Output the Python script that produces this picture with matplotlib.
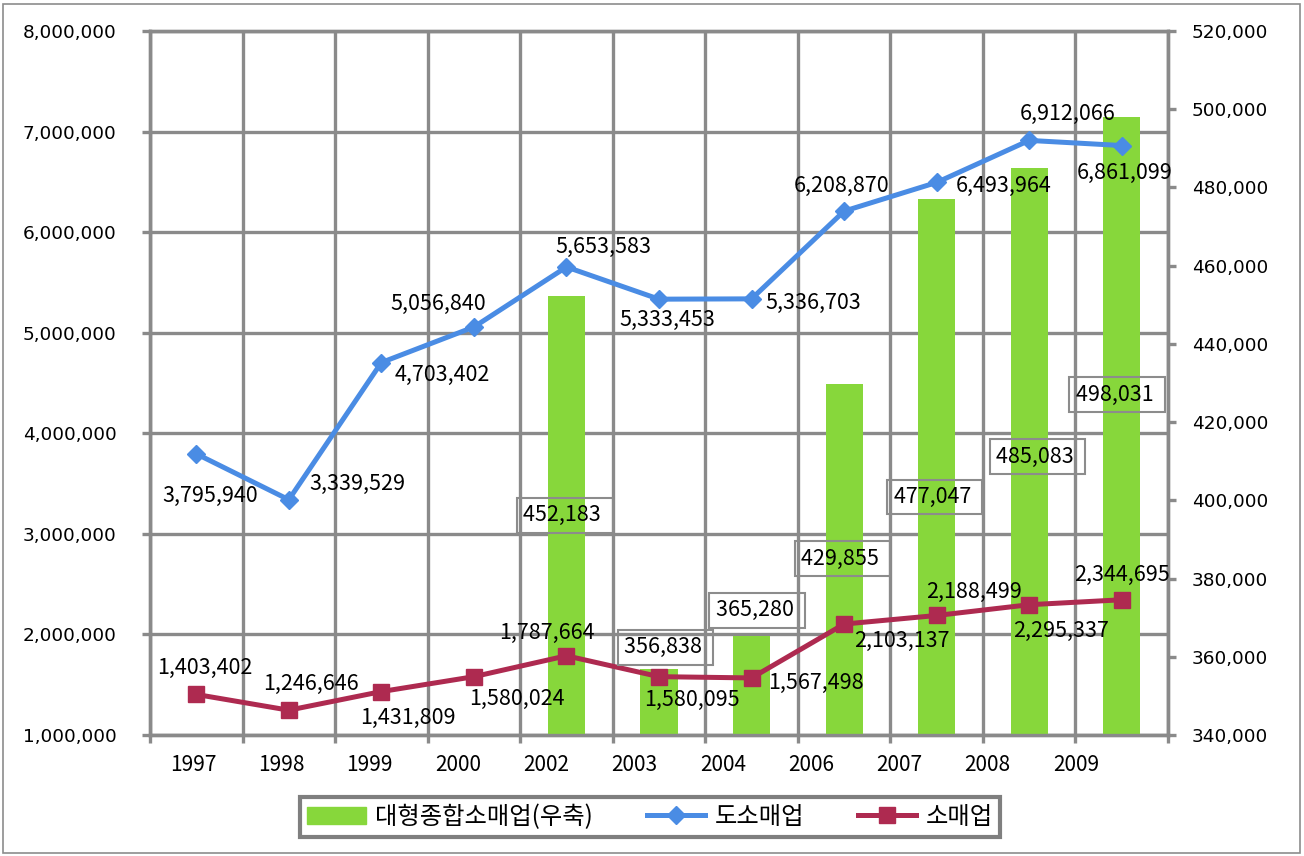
import numpy as np
import matplotlib
matplotlib.use('Agg')
import matplotlib.pyplot as plt
from matplotlib.lines import Line2D
from matplotlib.patches import Patch, Rectangle
from matplotlib.ticker import FuncFormatter

plt.rcParams['font.family'] = ['Noto Sans CJK KR', 'DejaVu Sans']

years = ['1997', '1998', '1999', '2000', '2002', '2003', '2004', '2006', '2007', '2008', '2009']
large_retail = [np.nan, np.nan, np.nan, np.nan, 452183, 356838, 365280, 429855, 477047, 485083, 498031]
wholesale_retail = [3795940, 3339529, 4703402, 5056840, 5653583, 5333453, 5336703, 6208870, 6493964, 6912066, 6861099]
retail = [1403402, 1246646, 1431809, 1580024, 1787664, 1580095, 1567498, 2103137, 2188499, 2295337, 2344695]

series_names = ['대형종합소매업(우축)', '도소매업', '소매업']

# label offsets (pixels, y up)
blue_off = [(14, -42), (69, 16), (61, -12), (-36, 23), (37, 20), (8, -21), (62, -4), (-3, 25), (67, -3), (38, 26), (3, -27)]
red_off = [(9, 26), (22, 26), (27, -26), (43, -22), (-20, 23), (33, -23), (64, -5), (58, -17), (37, 24), (32, -26), (0, 25)]
bar_off = [None, None, None, None, (-43, -219), (-35, 22), (-36, 26), (-43, -175), (-43, -298), (-33, -289), (-46, -278)]

GREEN = '#87D73B'
BLUE = '#4A8CE4'
RED = '#AE2A50'
GRID = '#8A8A8A'

W, H = 1304, 856
fig = plt.figure(figsize=(W / 100, H / 100), dpi=100)
ax = fig.add_axes([150 / W, (H - 735) / H, 1018 / W, 704 / H])
ax2 = ax.twinx()
ax3 = ax.twinx()

x = np.arange(len(years))
ax.set_xlim(-0.5, len(years) - 0.5)
ax.set_ylim(1000000, 8000000)
ax.set_yticks(np.arange(1000000, 8000001, 1000000))
ax2.set_ylim(340000, 520000)
ax2.set_yticks(np.arange(340000, 520001, 20000))
ax3.set_ylim(ax.get_ylim())

fmt = FuncFormatter(lambda v, p: f'{int(v):,}')
ax.yaxis.set_major_formatter(fmt)
ax2.yaxis.set_major_formatter(fmt)

# grid
ax.grid(axis='y', color=GRID, lw=2.4)
ax.set_xticks(np.arange(len(years) + 1) - 0.5, minor=True)
ax.grid(axis='x', which='minor', color=GRID, lw=2.4)
ax.set_xticks(np.arange(len(years)) * 0.954 - 0.035)
ax.set_xticklabels(years, fontsize=15)
ax.tick_params(axis='x', which='major', length=0, pad=14)
ax.tick_params(axis='x', which='minor', length=6, width=2.4, color=GRID, direction='out')
ax.tick_params(axis='y', length=6, width=2.4, color=GRID, pad=18)
ax2.tick_params(axis='y', length=6, width=2.4, color=GRID, pad=11)
for lab in ax.get_yticklabels() + ax2.get_yticklabels():
    lab.set_fontfamily('DejaVu Sans')
    lab.set_fontsize(13.3)
for a in (ax, ax2):
    for s in a.spines.values():
        s.set_color(GRID)
        s.set_linewidth(2.4)
for s in ax3.spines.values():
    s.set_visible(False)
ax3.set_yticks([])

# bars on right axis
ax2.bar(x, np.nan_to_num(large_retail, nan=0), width=0.4, color=GREEN, zorder=2)

# lines
ax3.plot(x, wholesale_retail, color=BLUE, lw=3.6, marker='D', markersize=9.5, zorder=3)
ax3.plot(x, retail, color=RED, lw=3.6, marker='s', markersize=12, zorder=3)

lab_kw = dict(textcoords='offset pixels', fontsize=15.5, ha='center', va='center', annotation_clip=False)
for i in range(len(years)):
    ax3.annotate(f'{wholesale_retail[i]:,}', (x[i], wholesale_retail[i]), xytext=blue_off[i], **lab_kw)
    ax3.annotate(f'{retail[i]:,}', (x[i], retail[i]), xytext=red_off[i], **lab_kw)
    if bar_off[i] is not None:
        ax3.annotate(f'{int(large_retail[i]):,} ', (x[i], large_retail[i]), xycoords=ax2.transData,
                     xytext=bar_off[i], textcoords='offset pixels', fontsize=15.5, ha='left', va='center',
                     annotation_clip=False,
                     bbox=dict(boxstyle='square,pad=0.3', fc='none', ec='#8C8C8C', lw=1.5))

handles = [Patch(color=GREEN),
           Line2D([], [], color=BLUE, lw=3.6, marker='D', markersize=9.5),
           Line2D([], [], color=RED, lw=3.6, marker='s', markersize=12)]
leg = fig.legend(handles, series_names, loc='center', bbox_to_anchor=(650 / W, 1 - 817 / H), ncol=3,
                 frameon=True, fancybox=False, edgecolor='#7F7F7F', framealpha=1, fontsize=17.5,
                 handlelength=2.4, handleheight=0.75, columnspacing=2.2, handletextpad=0.4,
                 borderpad=0.3, borderaxespad=0)
leg.get_frame().set_linewidth(3)

fig.add_artist(Rectangle((3 / W, 3 / H), 1297 / W, 849 / H, transform=fig.transFigure,
                         fill=False, edgecolor='#8C8C8C', lw=1.2))

fig.savefig('out.png', dpi=100)
